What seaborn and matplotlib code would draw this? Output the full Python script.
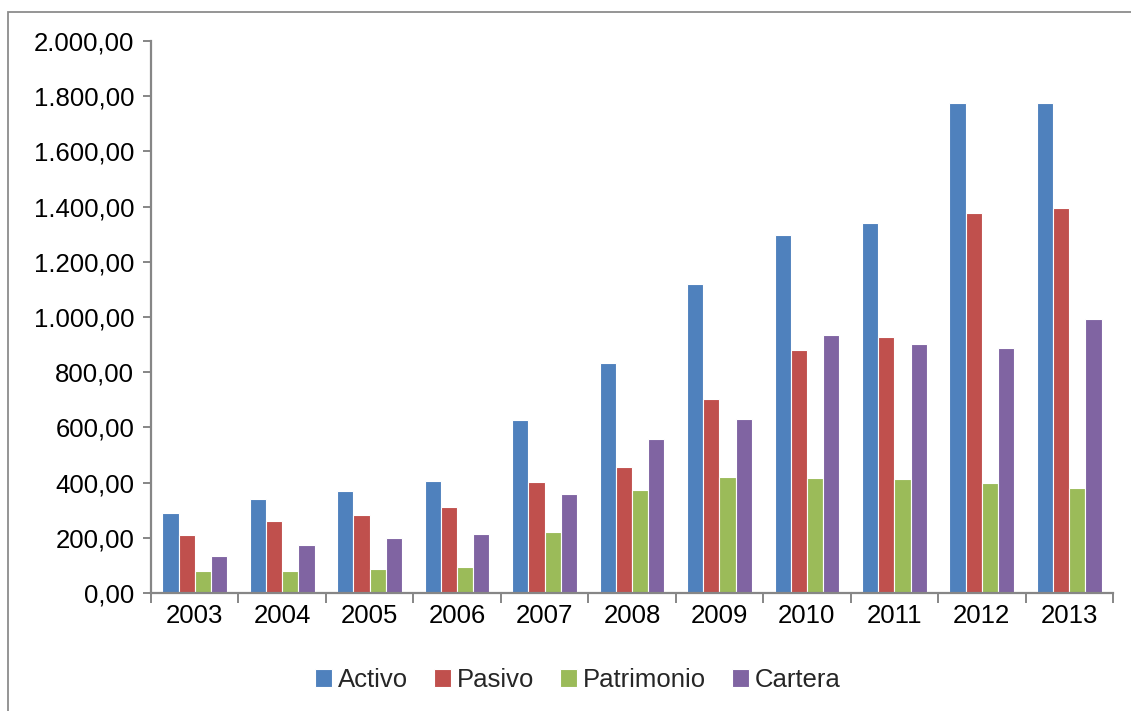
import matplotlib
matplotlib.use("Agg")
import matplotlib.pyplot as plt
from matplotlib.patches import Rectangle
from matplotlib.ticker import FuncFormatter, FixedLocator
import seaborn as sns
import pandas as pd

years = ["2003", "2004", "2005", "2006", "2007", "2008", "2009", "2010", "2011", "2012", "2013"]
activo = [289, 339, 370, 406, 626, 832, 1120, 1296, 1341, 1774, 1777]
pasivo = [209, 260, 284, 310, 402, 458, 702, 880, 929, 1376, 1395]
patrimonio = [80, 79, 86, 95, 222, 373, 419, 415, 412, 397, 380]
cartera = [135, 175, 200, 214, 358, 559, 632, 934, 901, 887, 994]
series_names = ["Activo", "Pasivo", "Patrimonio", "Cartera"]
colors = ["#4F81BD", "#C0504D", "#9BBB59", "#8064A2"]

rows = []
for name, vals in zip(series_names, [activo, pasivo, patrimonio, cartera]):
    for y, v in zip(years, vals):
        rows.append({"Año": y, "Serie": name, "Valor": v})
df = pd.DataFrame(rows)

sns.set_style("white")
plt.rcParams["font.family"] = ["Liberation Sans", "DejaVu Sans"]

fig = plt.figure(figsize=(11.31, 7.11), dpi=100)
ax = fig.add_axes([151 / 1131, 1 - 593 / 711, (1113 - 151) / 1131, (593 - 41) / 711])

sns.barplot(data=df, x="Año", y="Valor", hue="Serie", hue_order=series_names,
            palette=colors, width=0.74, edgecolor="white", linewidth=0.8,
            saturation=1, ax=ax, legend=True)

axis_color = "#868686"
ax.set_ylim(0, 2000)
ax.set_xlim(-0.5, len(years) - 0.5)
ax.set_yticks(range(0, 2001, 200))


def es_format(v, pos):
    s = f"{v:,.2f}"
    return s.replace(",", "X").replace(".", ",").replace("X", ".")


ax.yaxis.set_major_formatter(FuncFormatter(es_format))
ax.set_xlabel("")
ax.set_ylabel("")

for side in ["top", "right"]:
    ax.spines[side].set_visible(False)
for side in ["left", "bottom"]:
    ax.spines[side].set_color(axis_color)
    ax.spines[side].set_linewidth(1.6)

ax.tick_params(axis="y", which="major", length=6, width=1.4, color=axis_color,
               labelsize=18.5, pad=6, labelcolor="black", left=True, direction="out")
ax.tick_params(axis="x", which="major", length=0, labelsize=18.5, pad=8, labelcolor="black")
ax.xaxis.set_minor_locator(FixedLocator([i - 0.5 for i in range(len(years) + 1)]))
ax.tick_params(axis="x", which="minor", length=7, width=1.4, color=axis_color,
               bottom=True, direction="out")
ax.grid(False)

handles, labels = ax.get_legend_handles_labels()
ax.legend_.remove()
fig.legend(handles, labels, loc="center", bbox_to_anchor=(578 / 1131, 1 - 680 / 711),
           ncol=4, frameon=False, fontsize=18.5, handlelength=0.65, handleheight=0.65,
           handletextpad=0.25, columnspacing=1.0)

fig.patches.append(Rectangle((8 / 1131, -0.1), 1.2, 1 - 12 / 711 + 0.1,
                             transform=fig.transFigure, fill=False,
                             edgecolor="#8C8C8C", linewidth=1.3))

fig.savefig("out.png", dpi=100)
